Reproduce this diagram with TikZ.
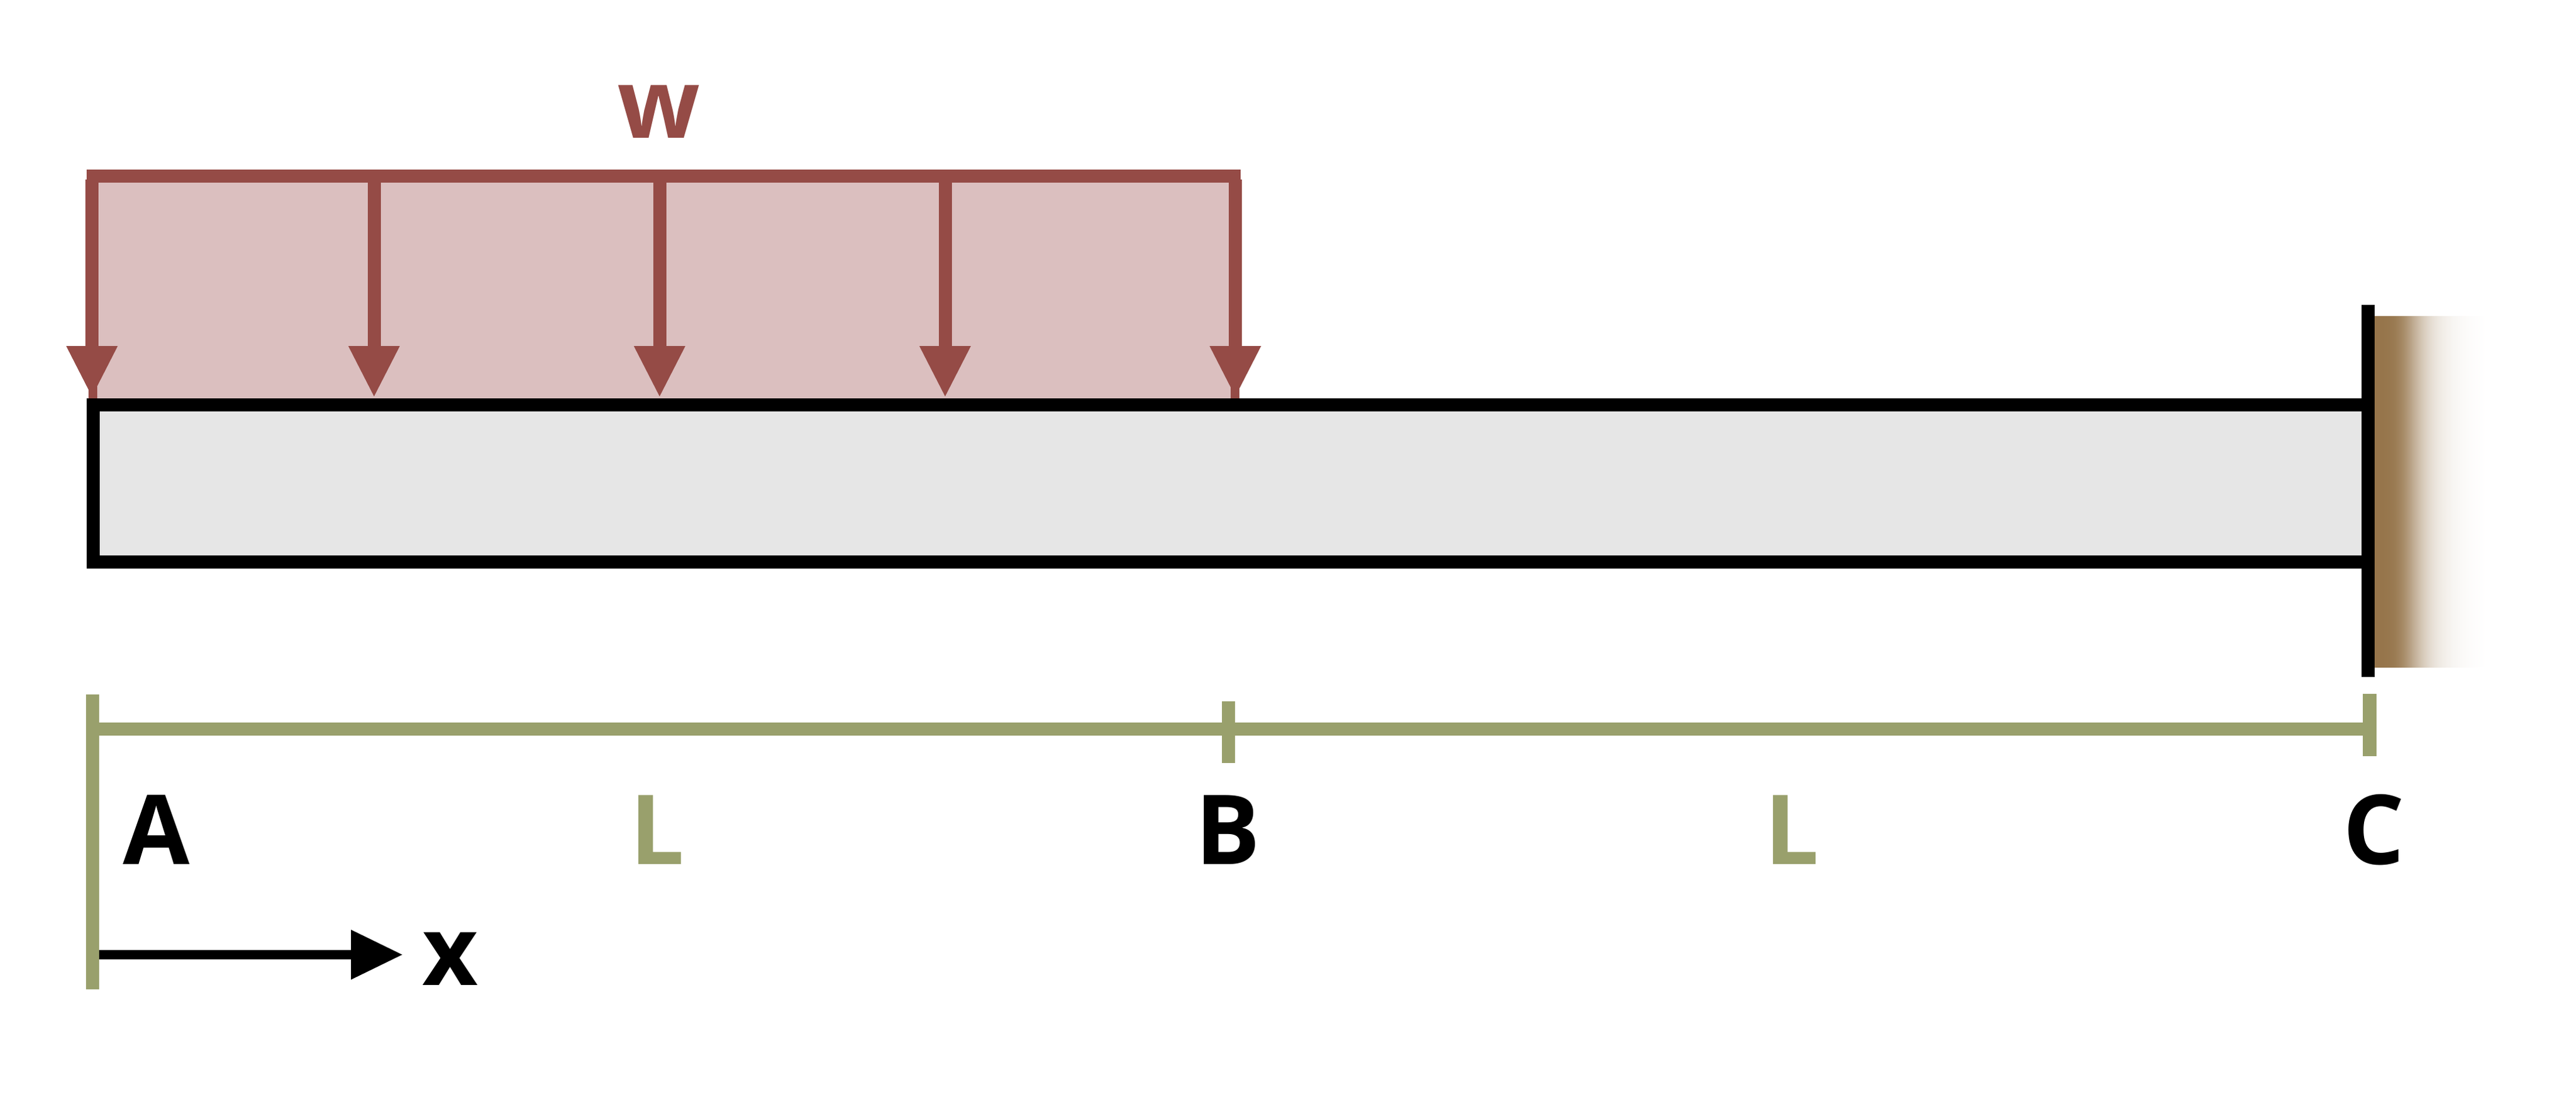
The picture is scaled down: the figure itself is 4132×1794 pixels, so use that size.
\documentclass[tikz,border=0pt]{standalone}
\usepackage{fontspec}
\setmainfont{Open Sans}
\usetikzlibrary{arrows.meta}
\definecolor{loadred}{HTML}{954B46}
\definecolor{loadpink}{HTML}{DBBFBF}
\definecolor{dimgreen}{HTML}{99A06C}
\definecolor{beamgray}{HTML}{E6E6E6}
\definecolor{wallbrown}{HTML}{96754B}
\tikzset{
  x=1pt,y=-1pt,
  label text/.style={font=\fontsize{155}{186}\selectfont\bfseries,inner sep=0pt,anchor=base},
  load arrow/.style={draw=loadred,line width=21pt,-{Triangle[length=83pt,width=76pt,fill=loadred]}},
  load stub/.style={draw=loadred,line width=14pt},
  dim line/.style={draw=dimgreen,line width=21pt},
  x axis/.style={draw=black,line width=14.4pt,-{Triangle[length=83pt,width=76pt]}},
}
\begin{document}
\begin{tikzpicture}
\useasboundingbox (0,0) rectangle (4132,1794);
% load area
\fill[loadpink] (149,293) rectangle (1981,640);
% wall gradient, in thin slices
\foreach \d in {1,3,...,179}{
  \pgfmathsetmacro{\pct}{max(0,100/(1+pow(\d/70,4))-2.2*\d/180)}
  \fill[wallbrown!\pct!white] (3808+\d,506.7) rectangle (3808+\d+2.5,1070.5);
}
% load arrows
\foreach \n/\px in {a/147.5,b/600,c/1058,d/1516,e/1981.5}{
  \coordinate (top\n) at (\px,288);
  \coordinate (tip\n) at (\px,638);
  \draw[load arrow] (top\n) -- (tip\n);
}
\coordinate (stubAtop) at (149,620); \coordinate (stubAbot) at (149,642);
\coordinate (stubEtop) at (1981,620); \coordinate (stubEbot) at (1981,642);
\draw[load stub] (stubAtop) -- (stubAbot);
\draw[load stub] (stubEtop) -- (stubEbot);
\coordinate (barL) at (139,282.5); \coordinate (barR) at (1990,282.5);
\draw[draw=loadred,line width=21pt] (barL) -- (barR);
% beam
\draw[fill=beamgray,draw=black,line width=21pt,miter limit=10] (149.5,649.7) rectangle (3798,901.7);
% wall plate
\coordinate (wallT) at (3798.5,489.3); \coordinate (wallB) at (3798.5,1086);
\draw[black,line width=21pt] (wallT) -- (wallB);
% dimension lines
\coordinate (dimA) at (148.8,1169); \coordinate (dimC) at (3801,1169);
\draw[dim line] (dimA) -- (dimC);
\coordinate (tickAt) at (148.8,1114); \coordinate (tickAb) at (148.8,1587.3);
\draw[dim line] (tickAt) -- (tickAb);
\coordinate (tickBt) at (1970.5,1124.5); \coordinate (tickBb) at (1970.5,1224);
\draw[dim line] (tickBt) -- (tickBb);
\coordinate (tickCt) at (3801,1113); \coordinate (tickCb) at (3801,1213);
\draw[dim line,line width=22pt] (tickCt) -- (tickCb);
% x axis
\coordinate (axisS) at (159,1531.4); \coordinate (axisE) at (646,1531.4);
\draw[x axis] (axisS) -- (axisE);
% labels
\node[label text,text=loadred] (w) at (1057,221) {w};
\node[label text] (A) at (251,1386.6) {A};
\node[label text,text=dimgreen] (L1) at (1054,1386.8) {L};
\node[label text] (B) at (1970,1386.6) {B};
\node[label text,text=dimgreen] (L2) at (2874,1386.8) {L};
\node[label text] (C) at (3808,1386.6) {C};
\node[label text] (x) at (722,1580.8) {x};
\end{tikzpicture}
\end{document}
